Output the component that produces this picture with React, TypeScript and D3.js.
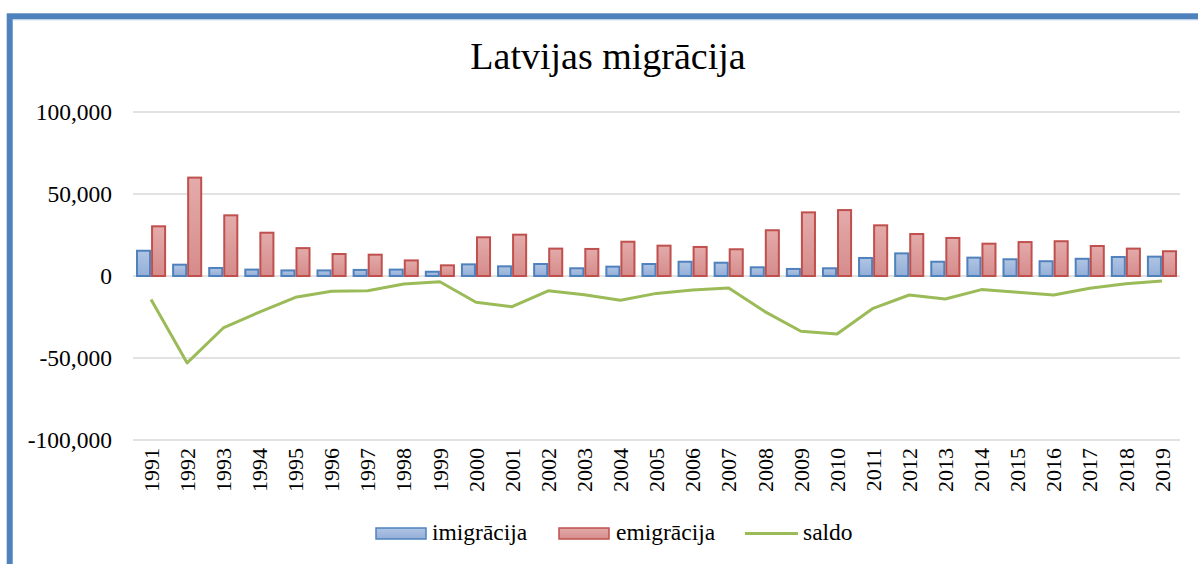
import React from "react";
import * as d3 from "d3";

const years = ["1991","1992","1993","1994","1995","1996","1997","1998","1999","2000","2001","2002","2003","2004","2005","2006","2007","2008","2009","2010","2011","2012","2013","2014","2015","2016","2017","2018","2019"];
const imigracija = [15400, 6900, 4900, 3900, 3400, 3400, 3700, 3900, 2600, 7100, 5900, 7300, 4700, 5700, 7300, 8700, 8100, 5300, 4300, 4700, 11000, 13800, 8700, 11200, 10200, 9000, 10500, 11600, 11800];
const emigracija = [30300, 60000, 37000, 26400, 17000, 13400, 13000, 9500, 6500, 23600, 25200, 16700, 16500, 20900, 18500, 17700, 16300, 27900, 38800, 40200, 30900, 25600, 23200, 19700, 20700, 21200, 18300, 16700, 15100];
const saldo = [-14400, -53000, -31700, -22000, -13000, -9300, -9000, -4900, -3500, -16000, -18700, -9000, -11400, -14800, -10600, -8500, -7300, -21700, -33700, -35400, -19700, -11600, -14000, -8300, -9900, -11600, -7500, -4700, -3000];
const yTicks = [-100000, -50000, 0, 50000, 100000];
const seriesNames = ["imigrācija", "emigrācija", "saldo"];

const W = 1198, H = 564;
const FONT = "'Liberation Serif', 'Times New Roman', serif";

export default function App() {
  const x0 = d3.scaleBand<string>().domain(years).range([133, 1180]).padding(0);
  const bw = x0.bandwidth();
  const gap = 6;
  const x1 = d3.scaleBand<string>().domain(["imm", "emi"]).range([gap / 2, bw - gap / 2]).padding(0);
  const y = d3.scaleLinear().domain([-100000, 100000]).range([440, 112]);
  const fmt0 = d3.format(",");
  const fmt = (v: number) => fmt0(v).replace("\u2212", "-");
  const line = d3.line<number>()
    .x((_, i) => (x0(years[i]) as number) + bw / 2)
    .y((d) => y(d));

  const bar = (v: number, i: number, key: string) => {
    const xx = (x0(years[i]) as number) + (x1(key) as number);
    const y0 = y(0), yv = y(v);
    return { x: xx + 1, y: Math.min(y0, yv), w: x1.bandwidth() - 2, h: Math.abs(y0 - yv) };
  };

  return (
    <svg width={W} height={H} style={{ position: "absolute", left: 0, top: 0, background: "#fff" }} fontFamily={FONT}>
      <defs>
        <linearGradient id="gBlue" x1="0" y1="0" x2="0" y2="1">
          <stop offset="0" stopColor="#B0C5E3" />
          <stop offset="1" stopColor="#94AED8" />
        </linearGradient>
        <linearGradient id="gRed" x1="0" y1="0" x2="0" y2="1">
          <stop offset="0" stopColor="#E3ABAA" />
          <stop offset="1" stopColor="#D58C8B" />
        </linearGradient>
      </defs>
      <rect x={0} y={0} width={W} height={H} fill="#fff" />
      {/* frame */}
      <rect x={9.7} y={16.3} width={1400} height={1000} fill="none" stroke="#4F81BD" strokeWidth={6} />
      <line x1={12.7} x2={W} y1={19.8} y2={19.8} stroke="#B8CCE6" strokeWidth={1} />

      {/* title */}
      <text x={608} y={69} textAnchor="middle" fontSize={38} fill="#000">Latvijas migrācija</text>

      {/* gridlines */}
      {yTicks.map((t) => (
        <g key={t}>
          <line x1={133} x2={1180} y1={y(t)} y2={y(t)} stroke="#D9D9D9" strokeWidth={1.5} />
          <text x={112} y={y(t)} dy="0.35em" textAnchor="end" fontSize={23.5} fill="#000">{fmt(t)}</text>
        </g>
      ))}

      {/* bars */}
      {imigracija.map((v, i) => {
        const b = bar(v, i, "imm");
        return <rect key={"i" + i} x={b.x} y={b.y} width={b.w} height={b.h} fill="url(#gBlue)" stroke="#4F81BD" strokeWidth={2} />;
      })}
      {emigracija.map((v, i) => {
        const b = bar(v, i, "emi");
        return <rect key={"e" + i} x={b.x} y={b.y} width={b.w} height={b.h} fill="url(#gRed)" stroke="#C0504D" strokeWidth={2} />;
      })}

      {/* saldo line */}
      <path d={line(saldo) || ""} fill="none" stroke="#9BBB59" strokeWidth={3} strokeLinejoin="round" />

      {/* x labels */}
      {years.map((yr) => {
        const cx = (x0(yr) as number) + bw / 2;
        return (
          <text key={yr} transform={`translate(${cx},448) rotate(-90)`} textAnchor="end" dy="0.35em" fontSize={22} fill="#000">{yr}</text>
        );
      })}

      {/* legend */}
      <g>
        <rect x={376} y={528} width={50} height={11} fill="url(#gBlue)" stroke="#4F81BD" strokeWidth={1.5} />
        <text x={432} y={540} fontSize={23.5} fill="#000">{seriesNames[0]}</text>
        <rect x={559} y={528} width={50} height={11} fill="url(#gRed)" stroke="#C0504D" strokeWidth={1.5} />
        <text x={616} y={540} fontSize={23.5} fill="#000">{seriesNames[1]}</text>
        <line x1={745} x2={798} y1={533.5} y2={533.5} stroke="#9BBB59" strokeWidth={3} />
        <text x={803} y={540} fontSize={23.5} fill="#000">{seriesNames[2]}</text>
      </g>
    </svg>
  );
}
